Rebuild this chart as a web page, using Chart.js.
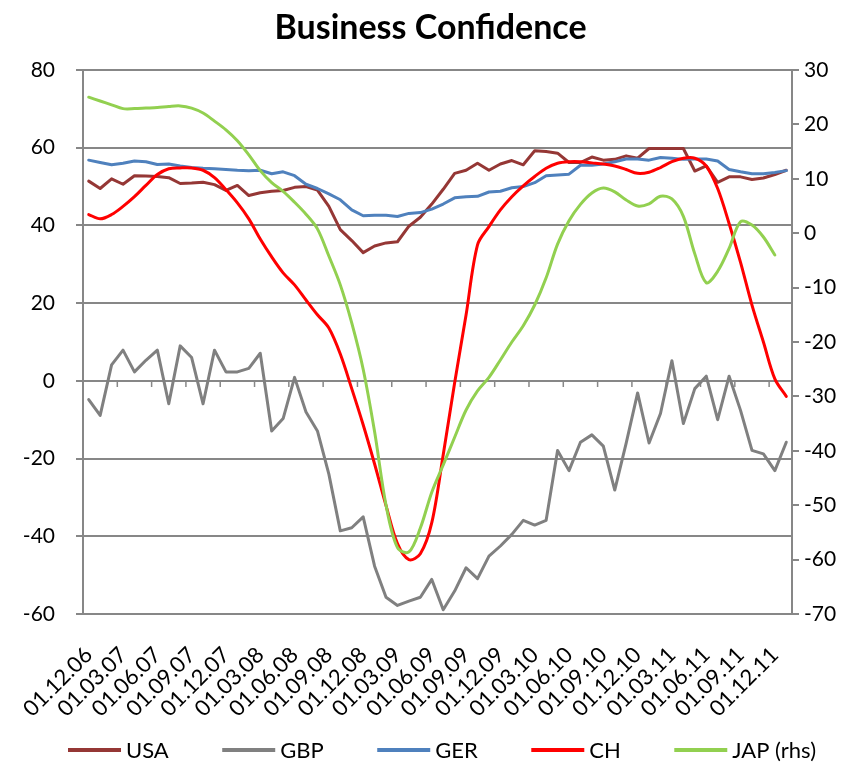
<!DOCTYPE html>
<html>
<head>
<meta charset="utf-8">
<script src="https://cdn.jsdelivr.net/npm/chart.js@4.4.0/dist/chart.umd.min.js"></script>
<style>
html,body{margin:0;padding:0;background:#fff;}
#wrap{width:861px;height:763px;}
</style>
</head>
<body>
<div id="wrap"><canvas id="c" width="861" height="763"></canvas></div>
<script>
const categories = [
  "01.12.06","01.01.07","01.02.07","01.03.07","01.04.07","01.05.07","01.06.07","01.07.07","01.08.07","01.09.07","01.10.07","01.11.07",
  "01.12.07","01.01.08","01.02.08","01.03.08","01.04.08","01.05.08","01.06.08","01.07.08","01.08.08","01.09.08","01.10.08","01.11.08",
  "01.12.08","01.01.09","01.02.09","01.03.09","01.04.09","01.05.09","01.06.09","01.07.09","01.08.09","01.09.09","01.10.09","01.11.09",
  "01.12.09","01.01.10","01.02.10","01.03.10","01.04.10","01.05.10","01.06.10","01.07.10","01.08.10","01.09.10","01.10.10","01.11.10",
  "01.12.10","01.01.11","01.02.11","01.03.11","01.04.11","01.05.11","01.06.11","01.07.11","01.08.11","01.09.11","01.10.11","01.11.11",
  "01.12.11","01.01.12"
];

const usa = [51.4,49.5,52.0,50.6,52.8,52.7,52.6,52.3,50.8,50.9,
             51.1,50.5,49.0,50.3,47.7,48.4,48.8,49.0,49.8,50.0,
             49.1,44.9,38.9,36.1,33.0,34.7,35.5,35.8,39.8,42.1,
             45.5,49.3,53.4,54.2,56.0,54.2,55.8,56.7,55.6,59.2,
             59.0,58.6,56.2,56.2,57.6,56.8,57.0,57.9,57.3,59.8,
             59.8,59.8,59.8,54.0,55.3,51.1,52.5,52.5,51.8,52.2,
             53.1,54.2];

const gbp = [-4.8,-8.9,4.1,7.9,2.3,5.3,7.9,-5.9,9.0,6.0,
             -5.9,7.9,2.3,2.3,3.2,7.1,-12.9,-9.7,0.9,-8.0,
             -12.9,-24.0,-38.6,-37.8,-35.0,-47.7,-55.7,-57.8,-56.7,-55.7,
             -51.1,-58.9,-54.1,-48.1,-50.9,-45.1,-42.5,-39.5,-35.9,-37.1,
             -35.9,-17.9,-23.1,-15.8,-13.9,-16.8,-28.1,-16.0,-3.1,-16.0,
             -8.4,5.2,-11.0,-2.0,1.2,-10.0,1.2,-7.6,-17.9,-18.8,
             -23.1,-15.8];

const ger = [56.8,56.2,55.6,56.0,56.6,56.4,55.7,55.8,55.3,54.9,
             54.7,54.6,54.4,54.2,54.1,54.2,53.3,53.8,52.8,50.6,
             49.5,48.1,46.6,44.0,42.5,42.6,42.6,42.3,43.1,43.3,
             44.2,45.5,47.1,47.4,47.5,48.6,48.8,49.7,50.0,51.0,
             52.8,53.0,53.2,55.5,55.5,55.8,56.4,57.1,57.1,56.8,
             57.5,57.3,57.0,57.1,57.1,56.6,54.4,53.8,53.3,53.3,
             53.6,54.1];

const ch  = [42.8,41.7,42.8,44.9,47.4,50.3,53.1,54.6,54.8,54.8,
             54.2,52.3,49.2,45.8,41.7,36.5,31.9,27.8,24.7,20.8,
             17.0,13.6,6.9,-2.0,-11.3,-21.4,-32.1,-41.9,-46.0,-44.5,
             -36.5,-19.0,-0.5,17.0,35.0,39.7,44.0,47.4,50.2,52.6,
             54.7,56.0,56.4,56.4,56.1,55.8,55.3,54.4,53.4,53.7,
             54.9,56.4,57.3,57.3,55.3,49.5,40.5,30.5,19.5,10.0,
             0.5,-4.0];

const jap = [25.0,24.3,23.6,22.9,22.9,23.0,23.1,23.3,23.4,23.0,
             22.1,20.6,19.0,17.0,14.4,11.5,9.3,7.7,5.7,3.5,
             0.8,-4.2,-9.5,-16.5,-25.0,-36.5,-50.0,-57.8,-58.6,-54.2,
             -47.6,-42.6,-37.5,-32.5,-29.0,-26.5,-23.3,-20.0,-17.0,-13.2,
             -8.2,-2.0,2.3,5.3,7.4,8.3,7.6,6.1,5.0,5.4,
             6.8,6.3,3.1,-3.8,-9.1,-7.0,-2.8,2.1,1.5,-0.7,
             -4.0,null];

const FONT = 'Lato, "Open Sans", "Liberation Sans", sans-serif';
const GRID = '#878787';

const zeroTicks = {
  id: 'zeroTicks',
  beforeDatasetsDraw(chart) {
    const xs = chart.scales.x, ys = chart.scales.y;
    const y0 = Math.round(ys.getPixelForValue(0));
    const c = chart.ctx;
    c.save();
    c.strokeStyle = GRID;
    c.lineWidth = 1.5;
    for (let k = 3; k < categories.length; k += 3) {
      const px = (xs.getPixelForValue(k - 1) + xs.getPixelForValue(k)) / 2;
      c.beginPath();
      c.moveTo(px, y0);
      c.lineTo(px, y0 + 6);
      c.stroke();
    }
    c.restore();
  }
};

const bottomLegend = {
  id: 'bottomLegend',
  afterDraw(chart) {
    const c = chart.ctx;
    c.save();
    c.font = '22px ' + FONT;
    c.textBaseline = 'middle';
    c.textAlign = 'left';
    const sets = chart.data.datasets;
    const lineW = 53, gap = 5;
    const startX = 68, endX = 816;
    const widths = sets.map(d => c.measureText(d.label).width);
    const used = widths.reduce((a, w) => a + lineW + gap + w, 0);
    const pad = (endX - startX - used) / (sets.length - 1);
    let x = startX;
    const y = 750;
    sets.forEach((d, i) => {
      c.strokeStyle = d.borderColor;
      c.lineWidth = 4;
      c.beginPath();
      c.moveTo(x, y);
      c.lineTo(x + lineW, y);
      c.stroke();
      c.fillStyle = '#000';
      c.fillText(d.label, x + lineW + gap, y + 1);
      x += lineW + gap + widths[i] + pad;
    });
    c.restore();
  }
};

Chart.defaults.font.family = FONT;
Chart.defaults.color = '#000';

new Chart(document.getElementById('c'), {
  type: 'line',
  data: {
    labels: categories,
    datasets: [
      {label: 'USA', data: usa, borderColor: '#953735', yAxisID: 'y', order: 5, tension: 0},
      {label: 'GBP', data: gbp, borderColor: '#808080', yAxisID: 'y', order: 4, tension: 0},
      {label: 'GER', data: ger, borderColor: '#4F81BD', yAxisID: 'y', order: 3, tension: 0},
      {label: 'CH', data: ch, borderColor: '#FF0000', yAxisID: 'y', order: 2, tension: 0.33},
      {label: 'JAP (rhs)', data: jap, borderColor: '#92D050', yAxisID: 'y2', order: 1, tension: 0.33}
    ]
  },
  options: {
    responsive: false,
    animation: false,
    devicePixelRatio: 1,
    layout: {padding: {left: 0, right: 0, top: 0, bottom: 48}},
    elements: {
      point: {radius: 0, hoverRadius: 0},
      line: {borderWidth: 3, fill: false, borderCapStyle: 'round', borderJoinStyle: 'round'}
    },
    plugins: {
      legend: {display: false},
      tooltip: {enabled: false},
      title: {
        display: true,
        text: 'Business Confidence',
        color: '#000',
        font: {size: 34, weight: 'bold', family: FONT},
        padding: {top: 8, bottom: 21.2}
      }
    },
    scales: {
      x: {
        type: 'category',
        offset: true,
        grid: {display: false, offset: true},
        border: {display: false},
        ticks: {
          autoSkip: false,
          maxRotation: 45,
          minRotation: 45,
          padding: 20,
          font: {size: 22},
          callback: (v, i) => (i % 3 === 0 ? categories[i] : '')
        },
        afterFit: s => { s.height = 763 - 48 - 614; }
      },
      y: {
        position: 'left',
        min: -60, max: 80,
        ticks: {stepSize: 20, padding: 21, font: {size: 21}},
        grid: {color: GRID, lineWidth: 2, tickLength: 7},
        border: {color: GRID, width: 2},
        afterFit: s => { s.width = 83; }
      },
      y2: {
        position: 'right',
        min: -70, max: 30,
        ticks: {stepSize: 10, padding: 5, font: {size: 21}},
        grid: {drawOnChartArea: false, color: GRID, lineWidth: 2, tickLength: 7},
        border: {color: GRID, width: 2},
        afterFit: s => { s.width = 69; }
      }
    }
  },
  plugins: [zeroTicks, bottomLegend]
});
</script>
</body>
</html>
